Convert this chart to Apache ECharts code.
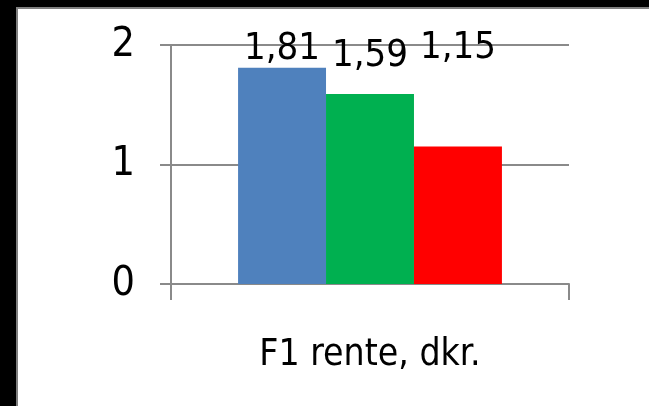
<!DOCTYPE html>
<html>
<head>
<meta charset="utf-8">
<script src="https://cdn.jsdelivr.net/npm/echarts@6/dist/echarts.min.js"></script>
<style>
  html, body { margin: 0; padding: 0; background: #000; }
  #chart { width: 649px; height: 406px; }
</style>
</head>
<body>
<div id="chart"></div>
<script>
// data
var categories = ['F1 rente, dkr.'];
var seriesNames = ['A', 'B', 'C'];
var seriesValues = [[1.81], [1.59], [1.15]];
var seriesColors = ['#4F81BD', '#00B050', '#FF0000'];
var yTicks = [0, 1, 2];

// labels were moved by hand in the original, so nudge them
var labelOffsets = [5, -14, -74];

var font = '"Liberation Sans Narrow", "DejaVu Sans Condensed", sans-serif';

var chart = echarts.init(document.getElementById('chart'));

var series = seriesNames.map(function (name, i) {
  return {
    name: name,
    type: 'bar',
    barGap: 0,
    barCategoryGap: '33.7%',
    itemStyle: { color: seriesColors[i] },
    label: {
      show: true,
      position: 'top',
      distance: 5,
      offset: [0, labelOffsets[i]],
      color: '#000',
      fontFamily: font,
      fontSize: 38,
      formatter: function (p) { return p.value.toFixed(2).replace('.', ','); }
    },
    data: seriesValues[i]
  };
});

chart.setOption({
  backgroundColor: '#000',
  animation: false,
  graphic: [{
    type: 'rect',
    z: -10,
    shape: { x: 17, y: 8, width: 650, height: 420 },
    style: { fill: '#fff', stroke: '#7f7f7f', lineWidth: 2 }
  }],
  grid: {
    left: 171,
    right: 80,
    top: 45,
    bottom: 122,
    containLabel: false
  },
  xAxis: {
    type: 'category',
    data: categories,
    axisLine: { lineStyle: { color: '#8a8a8a', width: 2 } },
    axisTick: { show: true, length: 16, lineStyle: { color: '#8a8a8a', width: 2 } },
    axisLabel: {
      color: '#000',
      fontFamily: font,
      fontSize: 37,
      margin: 53
    }
  },
  yAxis: {
    type: 'value',
    min: yTicks[0],
    max: yTicks[yTicks.length - 1],
    interval: 1,
    axisLine: { show: true, lineStyle: { color: '#8a8a8a', width: 2 } },
    axisTick: { show: true, length: 11, lineStyle: { color: '#8a8a8a', width: 2 } },
    splitLine: { lineStyle: { color: '#8a8a8a', width: 2 } },
    axisLabel: {
      color: '#000',
      fontFamily: font,
      fontSize: 41,
      margin: 36
    }
  },
  series: series
});
</script>
</body>
</html>
